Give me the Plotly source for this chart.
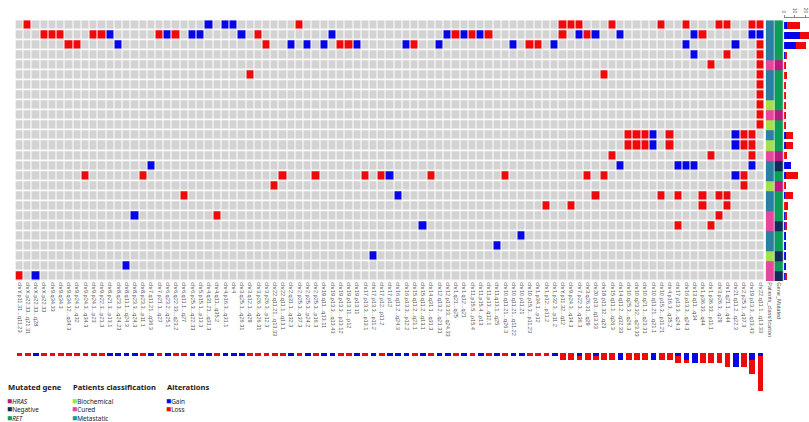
import plotly.graph_objects as go

W, H = 809, 422

# ---------------- data ----------------
regions = [
    "chrY.p11.31...q11.23", "chrX.p22.33...q21.31", "chrX.p22.33...q28", "chrX.p22.33",
    "chr9.q34.33", "chr9.q34.3", "chr9.q34.12...q34.3", "chr9.p24.3...q32",
    "chr9.p24.3...q34.3", "chr9.p24.1...p23", "chr9.p22.3...p21.3", "chr8.p21.3...p13.1",
    "chr8.q23.3...q24.23", "chr8.q11.1...q24.3", "chr8.p23.3...q24.3", "chr8.p23.3...p11.1",
    "chr7.q11.21...q36.3", "chr7.p21.1...q27", "chr6.q23.2...q25.1", "chr6.q22.33...q23.2",
    "chr6.q11.1...q27", "chr6.p25.3...q22.33", "chr5.p15.1...p13.3", "chr4.q31.21...q31.3",
    "chr4.q11...q35.2", "chr4.p16.3...q31.1", "chr4", "chr3.q25.1...q26.31",
    "chr3.q12.1...q29", "chr3.p26.3...q26.31", "chr3.p26.3...p12.3", "chr22.q11.21...q13.33",
    "chr22.q11.1...q13.1", "chr2.q31.1...q32.3", "chr2.p25.3...q37.3", "chr2.p25.3...p24.2",
    "chr2.p25.3...p16.3", "chr19.q11...q13.11", "chr19.p13.3...q13.43", "chr19.p13.3...p13.12",
    "chr19.p13.11...p12", "chr19.p13.11", "chr17.p13.3...p13.1", "chr17.p13.3...p11.2",
    "chr17.p12...p11.2", "chr17.p12", "chr16.q11.2...q24.3", "chr16.p13.3...p12.2",
    "chr15.q11.2...q21.1", "chr15.q11.2...q13.1", "chr14.q31.1...q31.3", "chr12.q13.2...q21.31",
    "chr12.p13.33...q24.33", "chr1.q21...q25", "chr1.q12...q21", "chr11.p15.5...p15.4",
    "chr11.p15.4...p13", "chr11.p13...q12.1", "chr11.q13.1...q25", "chr10.q11.21...q26.3",
    "chr10.q11.21...q11.22", "chr10.p11.21", "chr10.p15.3...p11.23", "chr1.p34.1...p12",
    "chr1.p12...p11.2", "chr1.p32.3...p11.2", "chrY.p11.32...q12", "chr9.p24.3...q34.3",
    "chr7.p22.3...q36.3", "chr3.q26.31...q29", "chr20.p13...q13.33", "chr18.p11.32...q23",
    "chr15.q11.1...q26.3", "chr14.q11.2...q32.33", "chr10.q25.3...q26.3", "chr10.q23.32...q23.33",
    "chr10.q21.1...q23.31", "chr10.q11.21...q21.1", "chr10.p15.3...p11.21", "chr4.p16.3...q35.2",
    "chr17.p13.3...q24.3", "chr16.p13.3...q24.3", "chr13.q11...q34", "chr1.p36.33...q44",
    "chr1.p36.33...p11.1", "chr3.p26.3...q29", "chr1.q21.1...q44", "chr21.q11.2...q22.3",
    "chr2.p25.3...q37.3", "chr19.p13.3...q13.43", "chr22.q11.1...q13.33",
]

# column indices of gains / losses for each patient (row), top to bottom
gain_by_row = [
    [23, 25, 26],
    [11, 18, 21, 22, 27, 38, 52, 54, 56, 68, 70, 73, 82, 89, 90],
    [12, 33, 35, 37, 41, 47, 51, 60, 65, 81, 87],
    [82], [], [], [], [], [], [], [],
    [77, 87], [77, 87], [],
    [16, 73, 80, 81, 82, 89],
    [45, 87], [], [46], [], [14], [49], [61], [58], [43], [13], [2],
]
loss_by_row = [
    [1, 34, 66, 67, 68, 72, 78, 81, 85, 86, 89, 90],
    [3, 4, 5, 9, 10, 17, 19, 29, 53, 55, 57, 66, 69, 83],
    [6, 7, 30, 39, 40, 48, 62, 63, 90],
    [86, 90], [84, 90], [28, 71, 90], [90], [90], [90], [90], [90],
    [74, 75, 76, 79, 88, 89], [74, 75, 76, 79, 88, 89], [72, 84, 89],
    [],
    [8, 15, 32, 36, 42, 44, 50, 59, 69, 71, 88], [31, 88],
    [20, 70, 78, 80, 83, 85, 86], [64, 67, 83, 86], [24, 85], [80, 84],
    [], [], [], [], [0],
]
patients_class = [
    "Metastatic", "Metastatic", "Metastatic", "Metastatic", "Cured", "Metastatic",
    "Metastatic", "Metastatic", "Biochemical", "Cured", "Biochemical", "Metastatic",
    "Biochemical", "Cured", "Metastatic", "Metastatic", "Biochemical", "Metastatic",
    "Metastatic", "Cured", "Cured", "Metastatic", "Metastatic", "Biochemical",
    "Cured", "Cured",
]
gene_mutated = [
    "RET", "RET", "RET", "RET", "HRAS", "RET", "RET", "RET", "RET", "HRAS", "RET", "RET",
    "RET", "HRAS", "Negative", "RET", "HRAS", "RET", "RET", "RET", "Negative", "RET",
    "RET", "Negative", "RET", "Negative",
]
annot_labels = ["Patients_classification", "Gene_Mutated"]
bar_ticks = [0, 10, 20]

# ---------------- styles ----------------
GREY, BLUE, RED = "#d3d3d3", "#0505e6", "#ee0a0a"
class_colors = {"Biochemical": "#a2e04c", "Cured": "#e6479d", "Metastatic": "#2a7fa2"}
gene_colors = {"HRAS": "#c0167f", "Negative": "#0e2b5c", "RET": "#0c9e56"}
codes = ["Biochemical", "Cured", "Metastatic", "HRAS", "Negative", "RET"]
code_colors = [class_colors[c] for c in codes[:3]] + [gene_colors[c] for c in codes[3:]]

n_rows, n_cols = len(gain_by_row), len(regions)
z = [[0] * n_cols for _ in range(n_rows)]
for r in range(n_rows):
    for c in gain_by_row[r]:
        z[r][c] = 1
    for c in loss_by_row[r]:
        z[r][c] = 2

z_ann = [[codes.index(patients_class[r]), codes.index(gene_mutated[r])] for r in range(n_rows)]
row_gain = [len(g) for g in gain_by_row]
row_loss = [len(l) for l in loss_by_row]
col_gain = [sum(1 for r in range(n_rows) if z[r][c] == 1) for c in range(n_cols)]
col_loss = [sum(1 for r in range(n_rows) if z[r][c] == 2) for c in range(n_cols)]


def disc_scale(colors):
    n = len(colors)
    s = []
    for i, col in enumerate(colors):
        s.append([i / n, col])
        s.append([(i + 1) / n, col])
    return s


px = lambda p: p / W
py = lambda p: 1 - p / H

GRID_L, GRID_R = 12.5, 764.5
GRID_T, GRID_B = 20.2, 281.2
ANN_L, ANN_R = 765.5, 783.5
RB_L = 784.0
BB_T, BB_B = 352.5, 394.5   # 12 units -> 3.5 px per unit

rows = list(range(n_rows))
cols = list(range(n_cols))

fig = go.Figure()
fig.add_trace(go.Heatmap(
    z=z, x=cols, y=rows, zmin=-0.5, zmax=2.5,
    colorscale=disc_scale([GREY, BLUE, RED]), showscale=False,
    xgap=1, ygap=1.6, hoverinfo="skip", xaxis="x", yaxis="y"))
fig.add_trace(go.Heatmap(
    z=z_ann, x=[0, 1], y=rows, zmin=-0.5, zmax=5.5,
    colorscale=disc_scale(code_colors), showscale=False,
    xgap=0.6, ygap=0, hoverinfo="skip", xaxis="x2", yaxis="y2"))
fig.add_trace(go.Bar(orientation="h", y=rows, x=row_gain, width=0.72,
                     marker=dict(color=BLUE, line=dict(width=0)),
                     xaxis="x3", yaxis="y3", showlegend=False))
fig.add_trace(go.Bar(orientation="h", y=rows, x=row_loss, width=0.72,
                     marker=dict(color=RED, line=dict(width=0)),
                     xaxis="x3", yaxis="y3", showlegend=False))
fig.add_trace(go.Bar(x=cols, y=col_gain, width=0.7,
                     marker=dict(color=BLUE, line=dict(width=0)),
                     xaxis="x4", yaxis="y4", showlegend=False))
fig.add_trace(go.Bar(x=cols, y=col_loss, width=0.7,
                     marker=dict(color=RED, line=dict(width=0)),
                     xaxis="x4", yaxis="y4", showlegend=False))

lab_font = dict(family="Liberation Sans", size=5.6, color="#555555")
grid_y = [py(GRID_B), py(GRID_T)]
hide = dict(showgrid=False, zeroline=False, showticklabels=False, ticks="", showline=False)

fig.update_layout(
    width=W, height=H, margin=dict(l=0, r=0, t=0, b=0),
    paper_bgcolor="white", plot_bgcolor="white", barmode="stack",
    showlegend=False,
    xaxis=dict(domain=[px(GRID_L), px(GRID_R)], range=[-0.5, n_cols - 0.5],
               tickmode="array", tickvals=cols, ticktext=regions, tickangle=90,
               tickfont=lab_font, ticks="", showgrid=False, zeroline=False, anchor="y"),
    yaxis=dict(domain=grid_y, range=[n_rows - 0.5, -0.5], anchor="x", **hide),
    xaxis2=dict(domain=[px(ANN_L), px(ANN_R)], range=[-0.5, 1.5],
                tickmode="array", tickvals=[0, 1], ticktext=annot_labels, tickangle=90,
                tickfont=lab_font, ticks="", showgrid=False, zeroline=False, anchor="y2"),
    yaxis2=dict(domain=grid_y, range=[n_rows - 0.5, -0.5], anchor="x2", **hide),
    xaxis3=dict(domain=[px(RB_L), 1], range=[0, 25 / 1.08], side="top",
                anchor="free", position=py(17),
                tickmode="array", tickvals=bar_ticks, tickangle=90,
                tickfont=dict(family="Liberation Sans", size=5, color="#555555"),
                showline=True, linecolor="#888888", linewidth=0.7,
                ticks="outside", ticklen=2, tickcolor="#888888", tickwidth=0.7,
                showgrid=False, zeroline=False),
    yaxis3=dict(domain=grid_y, range=[n_rows - 0.5, -0.5], anchor="x3", **hide),
    xaxis4=dict(domain=[px(GRID_L), px(GRID_R)], range=[-0.5, n_cols - 0.5], anchor="y4", **hide),
    yaxis4=dict(domain=[py(BB_B), py(BB_T)], range=[12, 0], anchor="x4", **hide),
)

# ---------------- legend (text annotations) ----------------
title_font = dict(family="Noto Sans", size=7.6, color="#1a1a1a")
item_font = dict(family="Noto Sans", size=6.4, color="#1a1a1a")


def sq(color):
    return f'<span style="color:{color};font-size:8.5px">■</span>'


legend_groups = [
    (3, "Mutated gene",
     [sq(gene_colors["HRAS"]) + "<i>HRAS</i>", sq(gene_colors["Negative"]) + "Negative",
      sq(gene_colors["RET"]) + "<i>RET</i>"]),
    (68.5, "Patients classification",
     [sq(class_colors["Biochemical"]) + "Biochemical", sq(class_colors["Cured"]) + "Cured",
      sq("#1f9a9c") + "Metastatic"]),
    (162.5, "Alterations", [sq(BLUE) + "Gain", sq(RED) + "Loss"]),
]
for x0, title, items in legend_groups:
    fig.add_annotation(x=px(x0), y=py(386.7), xref="paper", yref="paper",
                       xanchor="left", yanchor="middle", showarrow=False,
                       text=f"<b>{title}</b>", font=title_font, align="left")
    n = len(items)
    center = 400.5 + (n - 1) * 8.25 / 2
    fig.add_annotation(x=px(x0 - 1), y=py(center), xref="paper", yref="paper",
                       xanchor="left", yanchor="middle", showarrow=False,
                       text="<br>".join(items), font=item_font, align="left")

fig.write_html("out.html", config={"displayModeBar": False},
               post_script="document.body.style.margin='0';document.body.style.padding='0';"
                           "document.body.style.overflow='hidden';")
